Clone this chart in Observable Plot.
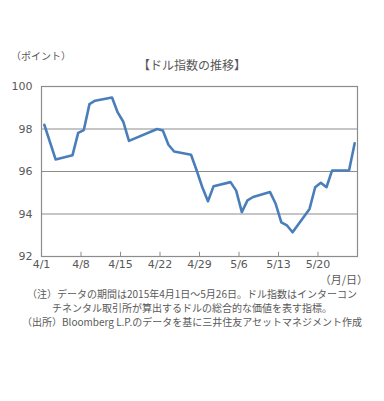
<!DOCTYPE html>
<html><head><meta charset="utf-8">
<script src="https://cdn.jsdelivr.net/npm/d3@7"></script>
<script src="https://cdn.jsdelivr.net/npm/@observablehq/plot@0.6"></script>
<style>
body{margin:0;background:#fff;}
#wrap{position:relative;width:384px;height:401px;font-family:"Noto Sans CJK JP",sans-serif;color:#595959;}
#wrap svg{position:absolute;left:0;top:0;}
.t{position:absolute;white-space:nowrap;line-height:1;}
</style></head>
<body><div id="wrap"></div>
<script>
const dates = ["2015-04-01","2015-04-03","2015-04-06","2015-04-07","2015-04-08","2015-04-09","2015-04-10","2015-04-13","2015-04-14","2015-04-15","2015-04-16","2015-04-21","2015-04-22","2015-04-23","2015-04-24","2015-04-27","2015-04-28","2015-04-29","2015-04-30","2015-05-01","2015-05-04","2015-05-05","2015-05-06","2015-05-07","2015-05-08","2015-05-11","2015-05-12","2015-05-13","2015-05-14","2015-05-15","2015-05-18","2015-05-19","2015-05-20","2015-05-21","2015-05-22","2015-05-25","2015-05-26"];
const values = [98.2,96.57,96.77,97.82,97.95,99.17,99.33,99.48,98.78,98.34,97.44,98.0,97.93,97.26,96.94,96.79,96.05,95.26,94.6,95.31,95.5,95.1,94.09,94.64,94.8,95.03,94.48,93.61,93.46,93.14,94.24,95.26,95.47,95.26,96.05,96.05,97.33];
const xTickLabels = ["2015-04-01","2015-04-08","2015-04-15","2015-04-22","2015-04-29","2015-05-06","2015-05-13","2015-05-20"];
const yTicks = [92,94,96,98,100];
const gridValues = [94,96,98];
const xDomain = ["2015-04-01","2015-05-27"];
const title = "【ドル指数の推移】";
const yUnit = "（ポイント）";
const xUnit = "（月/日）";
const notes = ["（注）データの期間は2015年4月1日～5月26日。ドル指数はインターコン","チネンタル取引所が算出するドルの総合的な価値を表す指標。","（出所）Bloomberg L.P.のデータを基に三井住友アセットマネジメント作成"];

const utc = s => new Date(s + "T00:00:00Z");
const data = dates.map((d,i) => ({x: new Date(utc(d).getTime() + 12*3600*1000), y: values[i]}));
const tickDates = xTickLabels.map(utc);

const chart = Plot.plot({
  width: 384, height: 401,
  marginLeft: 41, marginRight: 27, marginTop: 86, marginBottom: 145,
  style: {fontFamily: "DejaVu Sans, sans-serif", fontSize: "11px", color: "#595959", background: "#fff"},
  x: {type: "utc", domain: xDomain.map(utc)},
  y: {domain: [92,100]},
  marks: [
    Plot.ruleY(gridValues, {stroke: "#8c8c8c", strokeWidth: 1}),
    Plot.ruleX(tickDates, {y1: 92, y2: 92.2, stroke: "#8c8c8c"}),
    Plot.frame({stroke: "#8c8c8c", strokeWidth: 1.2}),
    Plot.line(data, {x: "x", y: "y", stroke: "#4a7ebb", strokeWidth: 2.6, strokeLinejoin: "round"}),
    Plot.axisY({ticks: yTicks, tickSize: 0, tickPadding: 9, tickFormat: d => String(d), label: null, fontSize: 11}),
    Plot.axisX({ticks: tickDates, tickSize: 0, tickPadding: 4, tickFormat: d => `${d.getUTCMonth()+1}/${d.getUTCDate()}`, label: null, fontSize: 11})
  ]
});
const wrap = document.getElementById("wrap");
wrap.appendChild(chart);
function addText(txt, css){const d=document.createElement("div");d.className="t";d.textContent=txt;Object.assign(d.style,css);wrap.appendChild(d);return d;}
addText(title, {left:"192px", top:"59px", fontSize:"12px", transform:"translateX(-50%)"});
addText(yUnit, {left:"11px", top:"51px", fontSize:"10px"});
addText(xUnit, {right:"16px", top:"274px", fontSize:"11px"});
addText(notes[0], {left:"192px", top:"289px", fontSize:"10px", transform:"translateX(-50%)"});
addText(notes[1], {left:"192px", top:"303px", fontSize:"10px", transform:"translateX(-50%)"});
addText(notes[2], {left:"192px", top:"317px", fontSize:"10px", transform:"translateX(-50%)"});
</script></body></html>
